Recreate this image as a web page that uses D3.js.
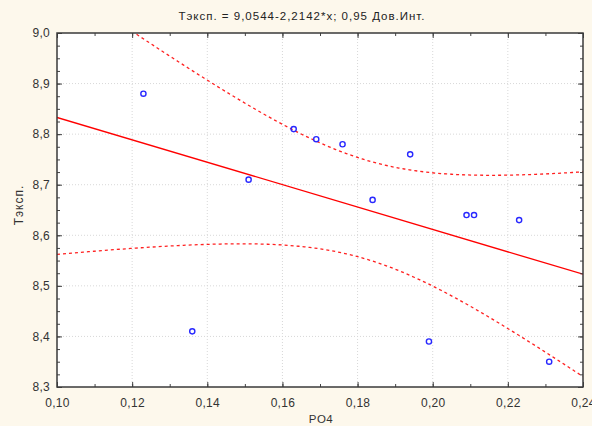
<!DOCTYPE html>
<html>
<head>
<meta charset="utf-8">
<script src="https://cdn.jsdelivr.net/npm/d3@7"></script>
<style>
  body { margin: 0; background: #fdf8ec; }
  svg { display: block; font-family: "Liberation Sans", Arial, sans-serif; }
</style>
</head>
<body>
<div id="chart"></div>
<script>
  // data
  var po4 = [0.123, 0.136, 0.151, 0.163, 0.169, 0.176, 0.184, 0.194, 0.199, 0.209, 0.211, 0.223, 0.231];
  var tExp = [8.88, 8.41, 8.71, 8.81, 8.79, 8.78, 8.67, 8.76, 8.39, 8.64, 8.64, 8.63, 8.35];
  var xTicks = [0.10, 0.12, 0.14, 0.16, 0.18, 0.20, 0.22, 0.24];
  var yTicks = [8.3, 8.4, 8.5, 8.6, 8.7, 8.8, 8.9, 9.0];
  var INTERCEPT = 9.0544;
  var SLOPE = -2.2142;
  var T_CRIT = 2.201; // t(0.975, 11)

  var width = 592;
  var height = 426;
  var margin = { top: 33, right: 9, bottom: 39, left: 57 };
  var w = width - margin.left - margin.right;
  var h = height - margin.top - margin.bottom;

  var svg = d3.select('#chart').append('svg')
    .attr('width', width)
    .attr('height', height);

  svg.append('rect')
    .attr('width', width).attr('height', height)
    .attr('fill', '#fdf8ec');

  var x = d3.scaleLinear().domain([0.10, 0.24]).range([0, w]);
  var y = d3.scaleLinear().domain([8.3, 9.0]).range([h, 0]);
  var fmt = function (d, n) { return d.toFixed(n).replace('.', ','); };

  var g = svg.append('g')
    .attr('transform', 'translate(' + margin.left + ',' + margin.top + ')');

  g.append('rect')
    .attr('width', w).attr('height', h)
    .attr('fill', '#ffffff');

  // grid
  g.append('g').selectAll('line')
    .data(xTicks.slice(1, -1))
    .enter().append('line')
    .attr('x1', function (d) { return x(d); })
    .attr('x2', function (d) { return x(d); })
    .attr('y1', 0).attr('y2', h)
    .attr('stroke', '#d8d8d8')
    .attr('stroke-dasharray', '1,2');
  g.append('g').selectAll('line')
    .data(yTicks.slice(1, -1))
    .enter().append('line')
    .attr('y1', function (d) { return y(d); })
    .attr('y2', function (d) { return y(d); })
    .attr('x1', 0).attr('x2', w)
    .attr('stroke', '#d8d8d8')
    .attr('stroke-dasharray', '1,2');

  // clip for lines
  svg.append('clipPath').attr('id', 'clip')
    .append('rect').attr('width', w).attr('height', h);

  var plot = g.append('g').attr('clip-path', 'url(#clip)');

  // regression and confidence band
  var n = po4.length;
  var xbar = d3.mean(po4);
  var sxx = d3.sum(po4, function (d) { return (d - xbar) * (d - xbar); });
  var sse = d3.sum(po4, function (d, i) {
    var r = tExp[i] - (INTERCEPT + SLOPE * d);
    return r * r;
  });
  var s = Math.sqrt(sse / (n - 2));
  var xs = d3.range(0.10, 0.2401, 0.0014);

  var fit = function (d) { return INTERCEPT + SLOPE * d; };
  var half = function (d) { return T_CRIT * s * Math.sqrt(1 / n + (d - xbar) * (d - xbar) / sxx); };

  var line = d3.line()
    .x(function (d) { return x(d[0]); })
    .y(function (d) { return y(d[1]); });

  plot.append('path')
    .datum([[0.10, fit(0.10)], [0.24, fit(0.24)]])
    .attr('d', line)
    .attr('fill', 'none')
    .attr('stroke', '#ff0000')
    .attr('stroke-width', 1.3);

  [1, -1].forEach(function (sign) {
    plot.append('path')
      .datum(xs.map(function (d) { return [d, fit(d) + sign * half(d)]; }))
      .attr('d', line)
      .attr('fill', 'none')
      .attr('stroke', '#ff2020')
      .attr('stroke-width', 1.3)
      .attr('stroke-dasharray', '3,3');
  });

  // points
  g.append('g').selectAll('circle')
    .data(po4)
    .enter().append('circle')
    .attr('cx', function (d) { return x(d); })
    .attr('cy', function (d, i) { return y(tExp[i]); })
    .attr('r', 2.6)
    .attr('fill', 'none')
    .attr('stroke', '#2828ff')
    .attr('stroke-width', 1.4);

  // axes with inward ticks on all sides
  var xMinor = d3.range(0.10, 0.2401, 0.01);
  var yMinor = d3.range(8.3, 9.0001, 0.025);
  function addAxis(axis, transform) {
    var a = g.append('g').attr('transform', transform).call(axis);
    a.select('.domain').remove();
    a.selectAll('line').attr('stroke', '#444');
    return a;
  }
  addAxis(d3.axisBottom(x).tickValues(xMinor).tickSize(-3).tickFormat(''), 'translate(0,' + h + ')');
  addAxis(d3.axisTop(x).tickValues(xMinor).tickSize(-3).tickFormat(''), 'translate(0,0)');
  addAxis(d3.axisLeft(y).tickValues(yMinor).tickSize(-3).tickFormat(''), 'translate(0,0)');
  addAxis(d3.axisRight(y).tickValues(yMinor).tickSize(-3).tickFormat(''), 'translate(' + w + ',0)');

  var xa = addAxis(d3.axisBottom(x).tickValues(xTicks).tickSize(-5).tickPadding(11)
    .tickFormat(function (d) { return fmt(d, 2); }), 'translate(0,' + h + ')');
  var ya = addAxis(d3.axisLeft(y).tickValues(yTicks).tickSize(-5).tickPadding(7)
    .tickFormat(function (d) { return fmt(d, 1); }), 'translate(0,0)');
  addAxis(d3.axisTop(x).tickValues(xTicks).tickSize(-5).tickFormat(''), 'translate(0,0)');
  addAxis(d3.axisRight(y).tickValues(yTicks).tickSize(-5).tickFormat(''), 'translate(' + w + ',0)');

  [xa, ya].forEach(function (a) {
    a.selectAll('text')
      .attr('fill', '#333')
      .style('font-size', '12px')
      .style('letter-spacing', '0.3px');
  });

  // frame
  g.append('rect')
    .attr('width', w).attr('height', h)
    .attr('fill', 'none')
    .attr('stroke', '#3a3a3a')
    .attr('stroke-width', 1.5);

  // labels
  svg.append('text')
    .attr('x', 302).attr('y', 20)
    .attr('text-anchor', 'middle')
    .attr('fill', '#222')
    .style('font-size', '11.5px')
    .style('letter-spacing', '1px')
    .text('Тэксп. = 9,0544-2,2142*x; 0,95 Дов.Инт.');

  svg.append('text')
    .attr('x', 321).attr('y', 423)
    .attr('text-anchor', 'middle')
    .attr('fill', '#333')
    .style('font-size', '11.5px')
    .style('letter-spacing', '0.5px')
    .text('PO4');

  svg.append('text')
    .attr('transform', 'translate(23,205) rotate(-90)')
    .attr('text-anchor', 'middle')
    .attr('fill', '#333')
    .style('font-size', '12px')
    .style('letter-spacing', '1px')
    .text('Тэксп.');
</script>
</body>
</html>
